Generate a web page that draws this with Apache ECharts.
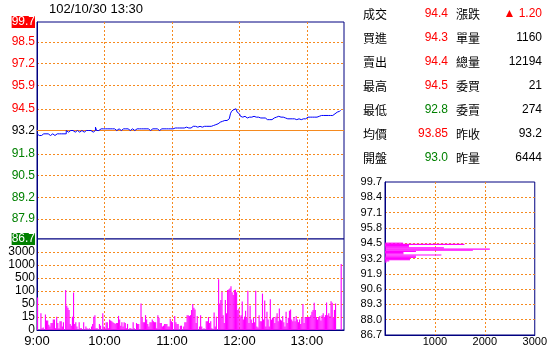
<!DOCTYPE html>
<html><head><meta charset="utf-8">
<script src="https://cdn.jsdelivr.net/npm/echarts@6/dist/echarts.min.js"></script>
<style>html,body{margin:0;padding:0;background:#fff}#c{width:550px;height:350px}</style>
</head><body><div id="c"></div>
<script>
const dateTimeLabel = '102/10/30 13:30';
const prevClose = 93.2;

// main price axis ticks / labels
const priceTicks = [99.7, 98.5, 97.2, 95.9, 94.5, 93.2, 91.8, 90.5, 89.2, 87.9, 86.7];
const priceTickLabels = ['99.7', '98.5', '97.2', '95.9', '94.5', '93.2', '91.8', '90.5', '89.2', '87.9', '86.7'];

// time axis (minutes after 9:00)
const timeTicks = [0, 60, 120, 180, 240];
const timeTickLabels = ['9:00', '10:00', '11:00', '12:00', '13:00'];
const timeMax = 273;

// volume axis: equally spaced levels
const volTicks = [0, 15, 50, 100, 500, 1000, 3000];
const volTickLabels = ['0', '15', '50', '100', '500', '1000', '3000'];

// per-minute price, 9:00 .. 13:30
const prices = [
  93.0, 92.9, 92.8, 92.9, 93.0, 93.0, 92.9, 93.0, 93.0, 93.0,
  93.0, 92.9, 93.0, 93.0, 93.0, 92.9, 93.0, 93.0, 93.0, 93.0,
  92.9, 93.0, 93.0, 93.0, 93.0, 93.0, 93.2, 93.1, 93.2, 93.2,
  93.1, 93.2, 93.2, 93.1, 93.2, 93.2, 93.2, 93.1, 93.2, 93.2,
  93.2, 93.1, 93.2, 93.2, 93.1, 93.2, 93.2, 93.2, 93.2, 93.1,
  93.2, 93.2, 93.4, 93.2, 93.2, 93.3, 93.3, 93.3, 93.3, 93.3,
  93.3, 93.2, 93.3, 93.3, 93.3, 93.2, 93.3, 93.3, 93.3, 93.3,
  93.2, 93.3, 93.3, 93.3, 93.2, 93.3, 93.3, 93.3, 93.3, 93.2,
  93.3, 93.3, 93.2, 93.3, 93.3, 93.3, 93.2, 93.3, 93.3, 93.3,
  93.3, 93.2, 93.3, 93.3, 93.3, 93.3, 93.3, 93.2, 93.3, 93.3,
  93.2, 93.3, 93.3, 93.3, 93.3, 93.3, 93.3, 93.3, 93.2, 93.3,
  93.3, 93.3, 93.3, 93.3, 93.3, 93.2, 93.3, 93.3, 93.3, 93.3,
  93.3, 93.35, 93.35, 93.4, 93.35, 93.35, 93.35, 93.4, 93.35, 93.35,
  93.35, 93.4, 93.4, 93.35, 93.35, 93.4, 93.35, 93.35, 93.45, 93.45,
  93.45, 93.45, 93.4, 93.45, 93.45, 93.45, 93.4, 93.45, 93.45, 93.45,
  93.45, 93.4, 93.45, 93.45, 93.45, 93.45, 93.5, 93.5, 93.55, 93.6,
  93.6, 93.65, 93.7, 93.75, 93.75, 93.8, 93.8, 93.8, 93.8, 93.85,
  93.9, 94.0, 94.2, 94.35, 94.45, 94.5, 94.5, 94.4, 94.3, 94.2,
  94.1, 94.05, 94.0, 94.0, 94.05, 94.0, 93.95, 94.0, 94.0, 94.05,
  94.0, 94.0, 94.05, 94.0, 94.0, 93.95, 94.0, 94.0, 93.95, 93.95,
  93.95, 94.0, 93.95, 93.95, 93.85, 93.85, 93.85, 93.85, 93.85, 93.85,
  93.95, 94.0, 94.0, 94.0, 94.05, 94.0, 94.0, 93.95, 94.0, 94.0,
  93.95, 93.9, 93.9, 93.85, 93.9, 93.9, 93.9, 93.95, 93.9, 93.9,
  93.85, 93.85, 93.9, 93.85, 93.85, 93.85, 93.9, 93.85, 93.9, 93.95,
  94.0, 94.0, 94.0, 94.05, 94.0, 94.0, 94.0, 94.05, 94.0, 94.0,
  94.05, 94.1, 94.1, 94.1, 94.1, 94.1, 94.1, 94.1, 94.1, 94.1,
  94.1, 94.1, 94.1, 94.15, 94.2, 94.2, 94.3, 94.3, 94.35, 94.4,
  94.4
];

// per-minute volume, 9:00 .. 13:30
const volumes = [
  75, 0, 0, 25, 2, 3, 0, 22, 11, 11,
  6, 4, 8, 8, 12, 12, 2, 16, 8, 2,
  10, 10, 4, 9, 0, 130, 45, 40, 34, 7,
  5, 16, 94, 7, 9, 4, 0, 9, 2, 2,
  0, 9, 0, 4, 2, 0, 2, 0, 4, 7,
  16, 20, 2, 2, 0, 7, 5, 0, 25, 4,
  2, 9, 9, 2, 12, 11, 10, 9, 8, 7,
  8, 8, 18, 12, 5, 9, 4, 9, 8, 2,
  7, 0, 2, 2, 0, 9, 2, 0, 8, 7,
  7, 0, 52, 14, 9, 9, 20, 12, 7, 4,
  9, 9, 12, 10, 9, 9, 2, 20, 14, 8,
  8, 4, 5, 7, 7, 7, 4, 4, 13, 10,
  9, 0, 18, 9, 7, 7, 0, 5, 5, 0,
  4, 9, 9, 20, 20, 18, 20, 34, 50, 40,
  35, 8, 18, 0, 4, 20, 4, 0, 2, 0,
  10, 10, 15, 8, 10, 2, 0, 27, 4, 16,
  0, 460, 52, 65, 97, 20, 8, 65, 25, 130,
  150, 180, 250, 95, 85, 130, 140, 95, 34, 38,
  16, 20, 60, 12, 16, 32, 14, 110, 8, 45,
  12, 8, 14, 9, 105, 4, 3, 20, 10, 10,
  90, 12, 63, 4, 29, 12, 4, 68, 12, 14,
  15, 8, 16, 25, 10, 38, 12, 11, 18, 9,
  4, 29, 8, 14, 32, 35, 12, 10, 15, 10,
  18, 12, 9, 12, 7, 14, 50, 8, 15, 15,
  15, 16, 15, 20, 29, 34, 55, 34, 15, 12,
  15, 18, 11, 20, 25, 15, 20, 56, 20, 25,
  17, 61, 55, 14, 34, 52, 0, 0, 0, 0,
  1160
];

// volume by price (right panel)
const distPrices = [94.5, 94.4, 94.3, 94.2, 94.1, 94.0, 93.9, 93.8, 93.7, 93.6, 93.5, 93.4, 93.3, 93.2, 93.1, 93.0, 92.9];
const distVolumes = [360, 1590, 480, 480, 1180, 2100, 1760, 620, 370, 370, 1130, 620, 620, 500, 500, 85, 35];
const distTicks = [99.7, 98.4, 97.1, 95.8, 94.5, 93.2, 91.9, 90.6, 89.3, 88.0, 86.7];
const distTickLabels = ['99.7', '98.4', '97.1', '95.8', '94.5', '93.2', '91.9', '90.6', '89.3', '88.0', '86.7'];
const distXTicks = [1000, 2000, 3000];
const distXTickLabels = ['1000', '2000', '3000'];

// quote table
const infoLeftLabels = ['成交', '買進', '賣出', '最高', '最低', '均價', '開盤'];
const infoLeftValues = ['94.4', '94.3', '94.4', '94.5', '92.8', '93.85', '93.0'];
const infoRightLabels = ['漲跌', '單量', '總量', '委買', '委賣', '昨收', '昨量'];
const infoRightValues = ['▲ 1.20', '1160', '12194', '21', '274', '93.2', '6444'];
const infoRightColors = ['#ff0000', '#000000', '#000000', '#000000', '#000000', '#000000', '#000000'];

const NAVY = '#000080', ORANGE = '#f58a1f', RED = '#ff0000', GREEN = '#008000', BLUE = '#0000ff', MAGENTA = '#ff00ff';
const NUMFONT = '"Liberation Sans", Arial, sans-serif';
const CJKFONT = '"Noto Sans CJK TC", "Noto Sans CJK SC", sans-serif';

function volLevel(v) {
  for (let i = 0; i < volTicks.length - 1; i++) {
    if (v <= volTicks[i + 1]) return i + (v - volTicks[i]) / (volTicks[i + 1] - volTicks[i]);
  }
  return volTicks.length - 1;
}
function idxOf(arr, v) { return arr.findIndex(t => Math.abs(t - v) < 1e-6); }
function priceColor(s) { const n = parseFloat(s); return n > prevClose ? RED : (n < prevClose ? GREEN : '#000000'); }

const dotted = { color: ORANGE, width: 1, type: [2, 2] };
const inner = (arr) => arr.slice(1, arr.length - 1);

const chart = echarts.init(document.getElementById('c'), null, { renderer: 'canvas' });

const graphics = [{
  type: 'text', x: 96, y: 9,
  style: { text: dateTimeLabel, fill: '#000', font: '13px ' + NUMFONT, align: 'center', verticalAlign: 'middle', textAlign: 'center', textVerticalAlign: 'middle' }
}];
infoLeftLabels.forEach((lab, i) => {
  const y = 14 + 24 * i;
  graphics.push({ type: 'text', x: 363, y: y, style: { text: lab, fill: '#000', font: '12px ' + CJKFONT, align: 'left', verticalAlign: 'middle', textAlign: 'left', textVerticalAlign: 'middle' } });
  graphics.push({ type: 'text', x: 448, y: y, style: { text: infoLeftValues[i], fill: priceColor(infoLeftValues[i]), font: '12px ' + NUMFONT, align: 'right', verticalAlign: 'middle', textAlign: 'right', textVerticalAlign: 'middle' } });
  graphics.push({ type: 'text', x: 456, y: y, style: { text: infoRightLabels[i], fill: '#000', font: '12px ' + CJKFONT, align: 'left', verticalAlign: 'middle', textAlign: 'left', textVerticalAlign: 'middle' } });
  graphics.push({ type: 'text', x: 542, y: y, style: { text: infoRightValues[i], fill: infoRightColors[i], font: '12px ' + NUMFONT, align: 'right', verticalAlign: 'middle', textAlign: 'right', textVerticalAlign: 'middle' } });
});

const option = {
  animation: false,
  backgroundColor: '#ffffff',
  textStyle: { fontFamily: NUMFONT },
  graphic: graphics,
  grid: [
    { left: 37, top: 22, width: 307, height: 217, show: true, borderColor: NAVY, borderWidth: 1, backgroundColor: '#fff' },
    { left: 37, top: 239, width: 307, height: 91, show: true, borderColor: NAVY, borderWidth: 1, backgroundColor: '#fff' },
    { left: 385, top: 182, width: 152, height: 153, show: true, borderColor: NAVY, borderWidth: 1, backgroundColor: '#fff' }
  ],
  xAxis: [
    { gridIndex: 0, type: 'value', min: 0, max: timeMax,
      axisLine: { show: false }, axisTick: { show: false, customValues: inner(timeTicks.concat([timeMax])) },
      axisLabel: { show: false }, splitLine: { show: true, lineStyle: dotted } },
    { gridIndex: 1, type: 'value', min: 0, max: timeMax,
      axisLine: { show: true, lineStyle: { color: NAVY } }, axisTick: { show: false, customValues: inner(timeTicks.concat([timeMax])) },
      axisLabel: { show: true, customValues: timeTicks, color: '#000', fontSize: 13, margin: 5, fontFamily: NUMFONT,
        formatter: v => timeTickLabels[idxOf(timeTicks, v)] || '' },
      splitLine: { show: true, lineStyle: dotted } },
    { gridIndex: 2, type: 'value', min: 0, max: 3000,
      axisLine: { show: true, lineStyle: { color: NAVY } }, axisTick: { show: false, customValues: [1000, 2000] },
      axisLabel: { show: true, customValues: distXTicks, color: '#000', fontSize: 11, margin: 1, fontFamily: NUMFONT,
        formatter: v => distXTickLabels[idxOf(distXTicks, v)] || '' },
      splitLine: { show: true, lineStyle: dotted } }
  ],
  yAxis: [
    { gridIndex: 0, type: 'value', min: 86.7, max: 99.7,
      axisLine: { show: true, lineStyle: { color: NAVY } },
      axisTick: { show: false, customValues: inner(priceTicks) },
      axisLabel: { show: true, customValues: priceTicks, margin: 2, fontSize: 12, fontFamily: NUMFONT,
        showMinLabel: true, showMaxLabel: true,
        formatter: v => {
          const i = idxOf(priceTicks, v); const s = priceTickLabels[i];
          if (i === 0) return '{ub|' + s + '}';
          if (i === priceTicks.length - 1) return '{db|' + s + '}';
          return v > prevClose + 1e-6 ? '{u|' + s + '}' : (v < prevClose - 1e-6 ? '{d|' + s + '}' : '{f|' + s + '}');
        },
        rich: {
          u: { color: RED, fontSize: 12, fontFamily: NUMFONT },
          d: { color: GREEN, fontSize: 12, fontFamily: NUMFONT },
          f: { color: '#000', fontSize: 12, fontFamily: NUMFONT },
          ub: { color: '#fff', backgroundColor: RED, fontSize: 12, fontFamily: NUMFONT, padding: [0, 0, 0, 0], lineHeight: 12 },
          db: { color: '#fff', backgroundColor: GREEN, fontSize: 12, fontFamily: NUMFONT, padding: [0, 0, 0, 0], lineHeight: 12 }
        } },
      splitLine: { show: true, lineStyle: dotted } },
    { gridIndex: 1, type: 'value', min: 0, max: 7,
      axisLine: { show: true, lineStyle: { color: NAVY } },
      axisTick: { show: false, customValues: [1, 2, 3, 4, 5, 6] },
      axisLabel: { show: true, customValues: [0, 1, 2, 3, 4, 5, 6], margin: 2, fontSize: 12, color: '#000', fontFamily: NUMFONT,
        showMinLabel: true, formatter: v => volTickLabels[Math.round(v)] || '' },
      splitLine: { show: true, lineStyle: dotted } },
    { gridIndex: 2, type: 'value', min: 86.7, max: 99.7,
      axisLine: { show: true, lineStyle: { color: NAVY } },
      axisTick: { show: false, customValues: inner(distTicks) },
      axisLabel: { show: true, customValues: distTicks, margin: 3, fontSize: 11, color: '#000', fontFamily: NUMFONT,
        showMinLabel: true, showMaxLabel: true,
        formatter: v => distTickLabels[idxOf(distTicks, v)] || '' },
      splitLine: { show: true, lineStyle: dotted } }
  ],
  series: [
    { type: 'line', xAxisIndex: 0, yAxisIndex: 0, step: 'end', showSymbol: false, symbol: 'none',
      data: prices.map((p, i) => [i, p]),
      lineStyle: { color: BLUE, width: 1 }, z: 5,
      markLine: { silent: true, symbol: 'none', label: { show: false },
        lineStyle: { color: ORANGE, width: 1, type: 'solid' }, data: [{ yAxis: prevClose }], z: 3 } },
    { type: 'custom', xAxisIndex: 1, yAxisIndex: 1, clip: true,
      data: volumes.map((v, i) => [i, volLevel(v)]),
      renderItem: (params, api) => {
        const t = api.value(0), lv = api.value(1);
        if (!(lv > 0)) return null;
        const a = api.coord([t, lv]), b = api.coord([t + 1, 0]);
        return { type: 'rect', shape: { x: a[0], y: a[1], width: b[0] - a[0], height: b[1] - a[1] }, style: { fill: MAGENTA } };
      } },
    { type: 'custom', xAxisIndex: 2, yAxisIndex: 2, clip: true,
      data: distPrices.map((p, i) => [distVolumes[i], p]),
      renderItem: (params, api) => {
        const v = api.value(0), p = api.value(1);
        const a = api.coord([0, p + 0.05]), b = api.coord([v, p - 0.05]);
        return { type: 'rect', shape: { x: a[0], y: a[1], width: b[0] - a[0], height: b[1] - a[1] }, style: { fill: MAGENTA } };
      } }
  ]
};
chart.setOption(option);
</script>
</body></html>
